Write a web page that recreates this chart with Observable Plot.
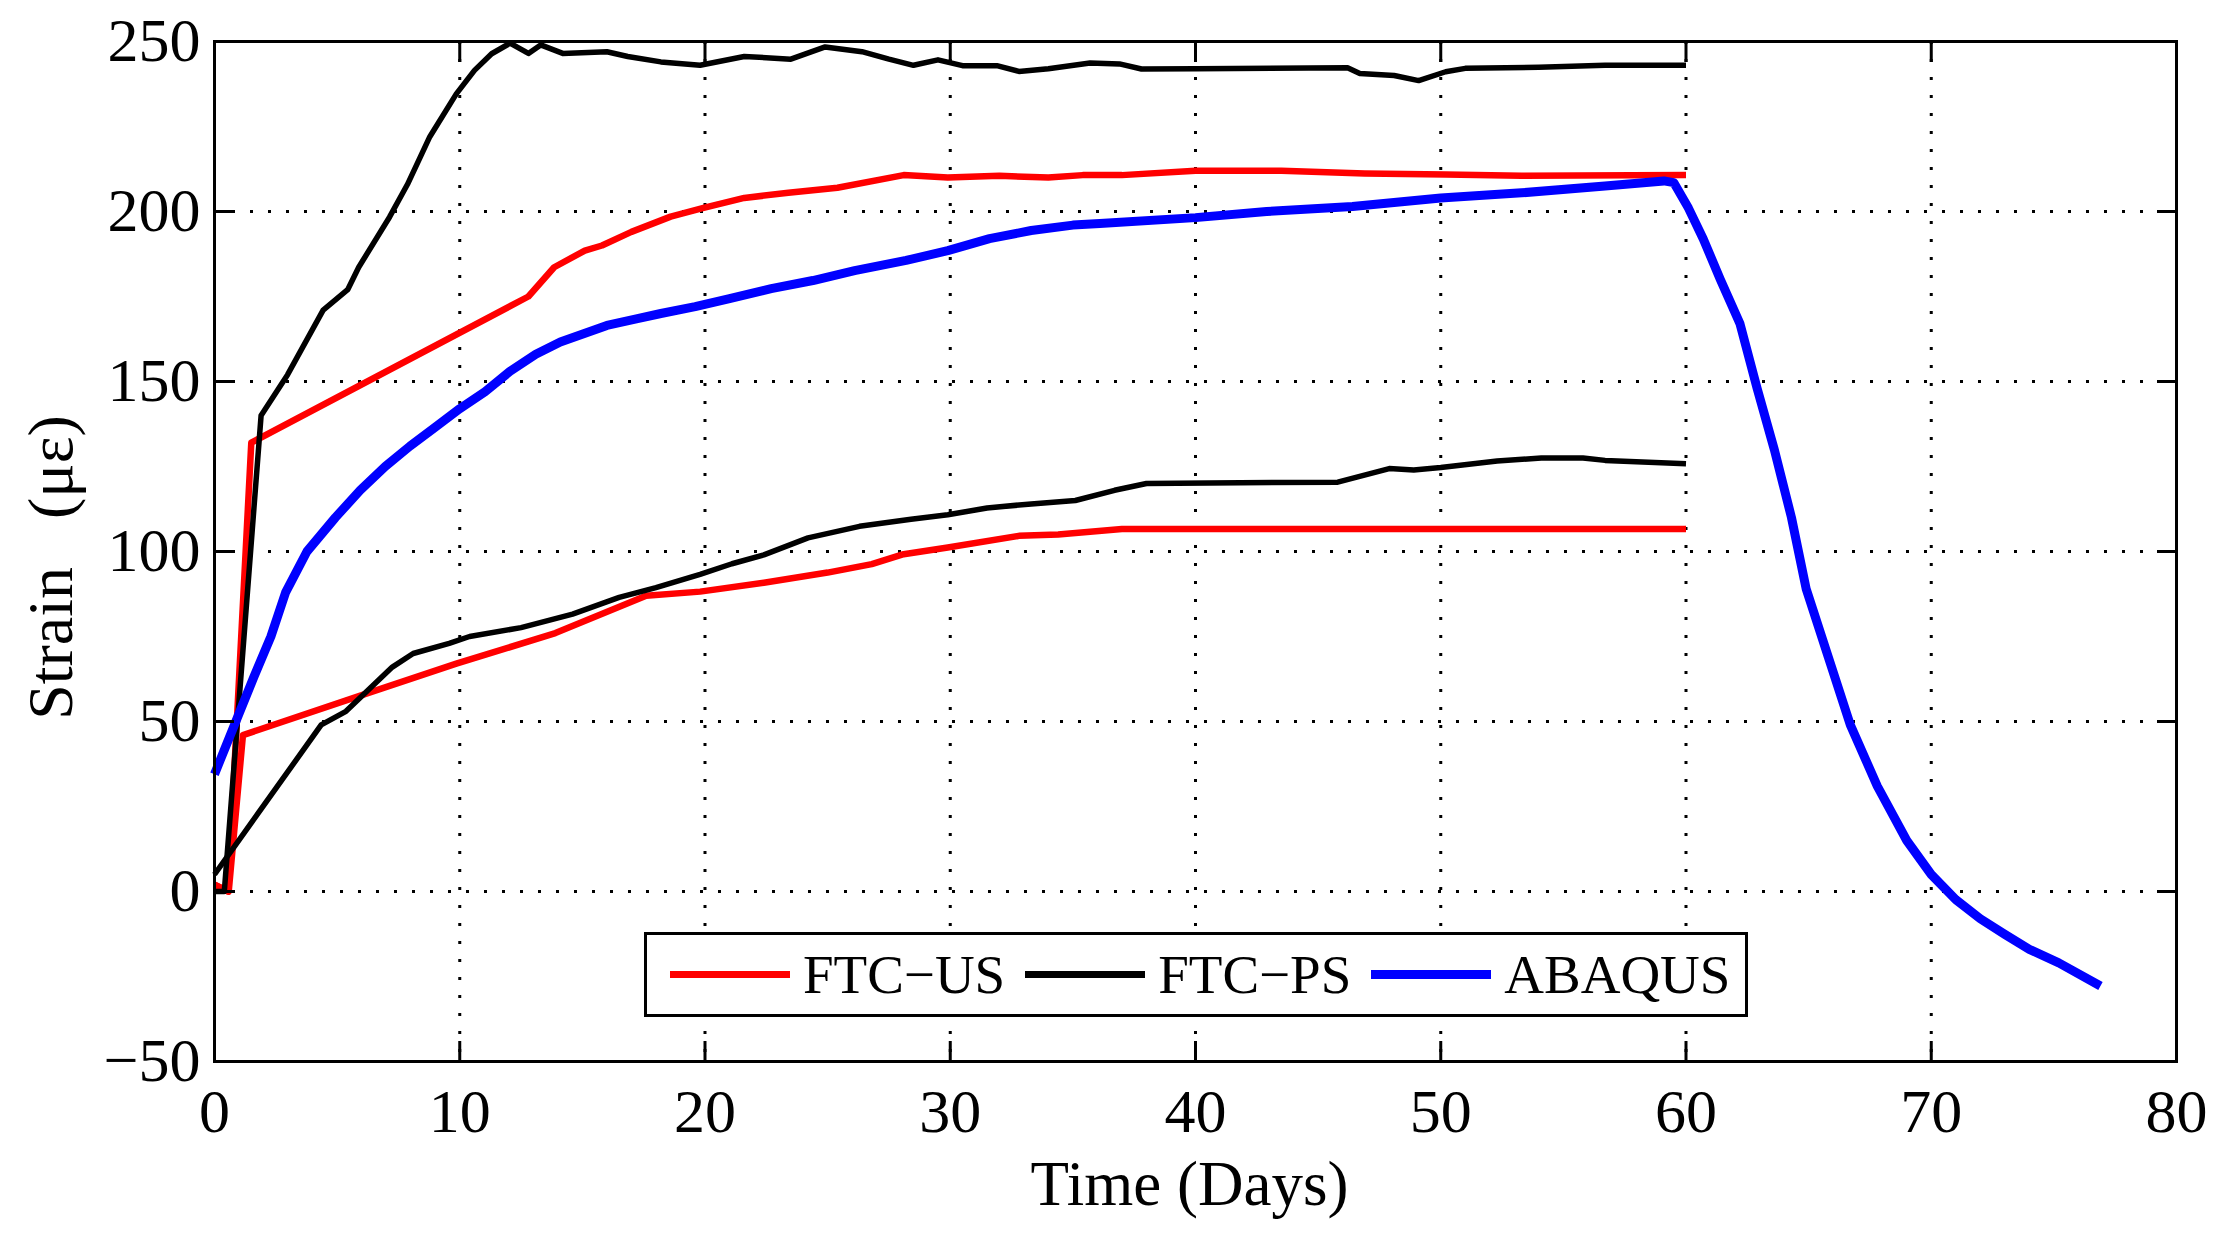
<!DOCTYPE html>
<html>
<head>
<meta charset="utf-8">
<script src="https://cdn.jsdelivr.net/npm/d3@7"></script>
<script src="https://cdn.jsdelivr.net/npm/@observablehq/plot@0.6"></script>
<style>
  html, body { margin: 0; padding: 0; background: #fff; overflow: hidden; }
  #wrap { position: relative; width: 2229px; height: 1234px; }
  #legend {
    position: absolute; left: 644px; top: 932px; width: 1075px; height: 79px;
    border: 3px solid #000; background: #fff; box-sizing: content-box;
    display: flex; align-items: center; padding: 0 0 0 23px;
    font-family: "Liberation Serif", "Times New Roman", serif; font-size: 55px; color: #000;
  }
  .item { display: flex; align-items: center; margin-right: 20px; }
  .sw { width: 120px; margin-right: 13px; }
</style>
</head>
<body>
<div id="wrap"><div id="legend"></div></div>
<script>
// ---- data ----
const seriesNames = ["FTC\u2212US", "FTC\u2212PS", "ABAQUS"];
const seriesColors = ["#ff0000", "#000000", "#0000ff"];

// FTC-US, upper gauge
const usUpperDays   = [0, 0.55, 1.5, 12.8, 13.85, 15.1, 15.8, 17, 18.6, 19.9, 21.6, 23.4, 25.4, 28.1, 29.9, 32, 34, 35.4, 37, 40, 43.5, 46.9, 50.2, 53.3, 60];
const usUpperStrain = [2, 0, 132, 175, 183.6, 188.5, 190, 194, 198.5, 201, 204, 205.5, 207, 210.7, 210, 210.5, 210, 210.7, 210.7, 212, 212, 211.2, 210.9, 210.5, 210.7];
// FTC-US, lower gauge
const usLowerDays   = [0, 0.58, 1.16, 6.1, 9.86, 13.9, 17.6, 19.8, 22.4, 25, 26.8, 28.1, 29.9, 32.8, 34.4, 37, 60];
const usLowerStrain = [2, 0, 46, 58, 67, 76, 87, 88.2, 90.8, 93.8, 96.3, 99.2, 101.2, 104.6, 105, 106.6, 106.6];
// FTC-PS, upper gauge
const psUpperDays   = [0, 0.4, 1.9, 2.98, 4.43, 5.43, 5.88, 7.14, 7.87, 8.78, 9.86, 10.6, 11.3, 12.05, 12.8, 13.3, 14.2, 16, 16.85, 18.2, 19.8, 21.6, 23.5, 24.9, 26.4, 27.5, 28.5, 29.5, 30.5, 31.9, 32.8, 34, 35.7, 36.9, 37.8, 40, 46.2, 46.7, 48.1, 49.1, 50.2, 51, 54, 56.7, 60];
const psUpperStrain = [0, 0, 140, 152, 171, 177, 183.6, 198.4, 208, 222, 234.6, 241.5, 246.4, 249.5, 246.5, 249, 246.5, 247, 245.6, 244, 243, 245.6, 244.8, 248.4, 247, 244.8, 243, 244.6, 242.9, 242.9, 241.2, 242, 243.7, 243.4, 241.9, 242, 242.3, 240.6, 240, 238.5, 241.1, 242.1, 242.4, 243, 243];
// FTC-PS, lower gauge
const psLowerDays   = [0, 4.35, 5.36, 7.25, 8.1, 9.57, 10.4, 12.5, 14.6, 16.5, 18, 19.8, 21.1, 22.4, 24.2, 26.3, 28.4, 29.9, 31.5, 33.3, 35.1, 36.7, 38, 45.8, 47.9, 48.9, 50, 52.3, 54.1, 55.8, 56.7, 60];
const psLowerStrain = [5, 49, 53, 66, 70, 73, 75, 77.6, 81.6, 86.5, 89.4, 93.3, 96.4, 99, 104, 107.4, 109.5, 110.8, 112.8, 114, 115, 118, 120, 120.4, 124.4, 124, 124.7, 126.6, 127.5, 127.5, 126.8, 125.8];
// ABAQUS
const abqDays   = [0, 0.87, 1.6, 2.3, 2.9, 3.77, 4.93, 5.94, 6.96, 7.97, 8.99, 10, 11.03, 12.05, 13.1, 14.1, 16, 17.2, 18.2, 19.6, 21, 22.7, 24.4, 26.1, 28.2, 29.9, 31.6, 33.3, 35, 36.1, 40, 42.9, 46.4, 50, 53.3, 56.7, 59.1, 59.5, 60.1, 60.7, 61.4, 62.2, 62.9, 63.6, 64.3, 64.9, 65.8, 66.7, 67.8, 69, 70, 71, 72, 73, 74, 75.2, 76.9];
const abqStrain = [34.5, 50, 63, 75, 88, 100, 110, 118, 125, 131, 136.5, 142, 147, 153, 158, 161.6, 166.5, 168.4, 170, 172, 174.4, 177.3, 179.7, 182.6, 185.6, 188.5, 192, 194.4, 196, 196.5, 198.2, 200, 201.5, 204, 205.5, 207.5, 209, 208.5, 201, 192, 180, 167, 148, 130, 110, 89, 69, 49, 31, 15, 5, -2.4, -8, -12.6, -17, -21, -27.8];

const xTicks = [0, 10, 20, 30, 40, 50, 60, 70, 80];
const yTicks = [-50, 0, 50, 100, 150, 200, 250];
const xLabel = "Time (Days)";
const yLabel = "Strain \u2002(\u03bc\u03b5)";

const toRows = (days, strain, series, gauge) => days.map((d, i) => ({day: d, strain: strain[i], series, gauge}));
const rows = [
  ...toRows(usUpperDays, usUpperStrain, seriesNames[0], "upper"),
  ...toRows(usLowerDays, usLowerStrain, seriesNames[0], "lower"),
  ...toRows(psUpperDays, psUpperStrain, seriesNames[1], "upper"),
  ...toRows(psLowerDays, psLowerStrain, seriesNames[1], "lower"),
  ...toRows(abqDays, abqStrain, seriesNames[2], "model")
];
const widths = {[seriesNames[0]]: 6.5, [seriesNames[1]]: 5.5, [seriesNames[2]]: 9};

const font = "'Liberation Serif', 'Times New Roman', serif";
const lineMarks = seriesNames.flatMap(name =>
  ["upper", "lower", "model"].map(g => {
    const d = rows.filter(r => r.series === name && r.gauge === g);
    return d.length ? Plot.line(d, {x: "day", y: "strain", stroke: "series", strokeWidth: widths[name], strokeLinejoin: "round", strokeLinecap: "butt"}) : null;
  }).filter(Boolean)
);

const chart = Plot.plot({
  width: 2229,
  height: 1234,
  marginLeft: 214,
  marginRight: 53,
  marginTop: 41,
  marginBottom: 173,
  style: {fontFamily: font, fontSize: "62px", background: "#fff", color: "#000"},
  x: {domain: [0, 80]},
  y: {domain: [-50, 250]},
  color: {domain: seriesNames, range: seriesColors},
  marks: [
    Plot.gridX(xTicks, {stroke: "#000", strokeOpacity: 1, strokeWidth: 3, strokeDasharray: "3,15"}),
    Plot.gridY(yTicks, {stroke: "#000", strokeOpacity: 1, strokeWidth: 3, strokeDasharray: "3,15"}),
    ...lineMarks,
    Plot.axisX(xTicks, {anchor: "bottom", tickSize: -20, tickPadding: 46, strokeWidth: 3, fontSize: 62, label: null}),
    Plot.axisX(xTicks, {anchor: "top", tickSize: -20, strokeWidth: 3, tickFormat: () => "", label: null}),
    Plot.axisY(yTicks, {anchor: "left", tickSize: -20, tickPadding: 34, strokeWidth: 3, fontSize: 62, label: null}),
    Plot.axisY(yTicks, {anchor: "right", tickSize: -20, strokeWidth: 3, tickFormat: () => "", label: null}),
    Plot.frame({stroke: "#000", strokeWidth: 3}),
    Plot.text([xLabel], {frameAnchor: "bottom", dx: -6, dy: 123, fontSize: 63, lineAnchor: "middle", textAnchor: "middle"}),
    Plot.text([yLabel], {frameAnchor: "left", dx: -163, dy: 16, rotate: -90, fontSize: 64, lineAnchor: "middle", textAnchor: "middle"})
  ]
});
document.getElementById("wrap").prepend(chart);

// legend built from the series arrays
const legend = document.getElementById("legend");
const swH = [7, 7, 9];
seriesNames.forEach((name, i) => {
  const item = document.createElement("div");
  item.className = "item";
  const sw = document.createElement("div");
  sw.className = "sw";
  sw.style.height = swH[i] + "px";
  sw.style.background = seriesColors[i];
  const t = document.createElement("span");
  t.textContent = name;
  item.append(sw, t);
  legend.append(item);
});
</script>
</body>
</html>
